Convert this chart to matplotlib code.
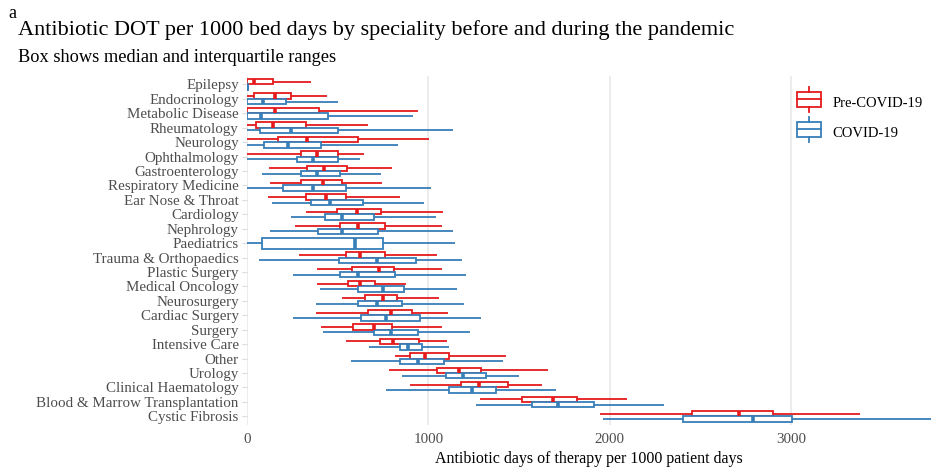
import numpy as np
import matplotlib
matplotlib.use("Agg")
import matplotlib.pyplot as plt
from matplotlib.legend_handler import HandlerBase
from matplotlib.patches import Rectangle
from matplotlib.lines import Line2D

plt.rcParams['font.family'] = ['Liberation Serif', 'DejaVu Serif']

categories = ["Epilepsy", "Endocrinology", "Metabolic Disease", "Rheumatology", "Neurology",
              "Ophthalmology", "Gastroenterology", "Respiratory Medicine", "Ear Nose & Throat",
              "Cardiology", "Nephrology", "Paediatrics", "Trauma & Orthopaedics", "Plastic Surgery",
              "Medical Oncology", "Neurosurgery", "Cardiac Surgery", "Surgery", "Intensive Care",
              "Other", "Urology", "Clinical Haematology", "Blood & Marrow Transplantation",
              "Cystic Fibrosis"]

nan = np.nan
pre_min = [0, 0, 0, 0, 0, 0, 121, 129, 116, 324, 263, nan, 287, 386, 386, 526, 379, 407, 544, 816, 780, 897, 1284, 1946]
pre_q1 = [0, 37, 0, 52, 171, 296, 331, 295, 324, 496, 515, nan, 544, 579, 554, 649, 667, 585, 732, 897, 1045, 1177, 1514, 2455]
pre_med = [37, 157, 153, 143, 333, 386, 423, 419, 438, 607, 612, nan, 625, 728, 625, 750, 791, 699, 802, 980, 1168, 1280, 1688, 2714]
pre_q3 = [143, 245, 397, 324, 612, 502, 552, 521, 544, 736, 758, nan, 760, 811, 704, 827, 910, 800, 947, 1114, 1291, 1436, 1817, 2898]
pre_max = [350, 441, 943, 667, 1002, 644, 800, 743, 846, 1078, 1074, nan, 1045, 1076, 879, 1059, 1107, 1076, 1100, 1425, 1657, 1624, 2096, 3380]

cov_min = [0, 0, 0, 0, 0, 0, 85, 0, 138, 241, 129, 0, 66, 254, 405, 379, 254, 419, 673, 572, 855, 765, 1262, 1964]
cov_q1 = [0, 0, 0, 70, 94, 278, 295, 199, 350, 429, 392, 85, 507, 511, 612, 612, 627, 699, 842, 846, 1096, 1114, 1569, 2405]
cov_med = [0, 88, 79, 245, 226, 364, 386, 364, 456, 526, 526, 596, 717, 612, 747, 714, 765, 793, 885, 940, 1188, 1241, 1712, 2788]
cov_q3 = [5, 213, 447, 502, 410, 502, 511, 544, 637, 699, 723, 750, 929, 816, 864, 852, 956, 943, 965, 1085, 1315, 1370, 1914, 3003]
cov_max = [10, 502, 916, 1133, 833, 622, 736, 1012, 975, 1039, 1133, 1146, 1183, 1205, 1158, 1197, 1291, 1228, 1114, 1409, 1499, 1703, 2300, 3800]

xticks = [0, 1000, 2000, 3000]
series_names = ["Pre-COVID-19", "COVID-19"]
RED = "#E41A1C"
BLUE = "#377EB8"

W, H = 931, 473
fig = plt.figure(figsize=(W / 100, H / 100), dpi=100)
ax = fig.add_axes([247 / W, 1 - 425 / H, (931 - 247) / W, (425 - 75.8) / H])

def stats_for(mins, q1s, meds, q3s, maxs):
    out, idx = [], []
    for i in range(len(categories)):
        if np.isnan(meds[i]):
            continue
        out.append(dict(whislo=mins[i], q1=q1s[i], med=meds[i], q3=q3s[i], whishi=maxs[i], fliers=[]))
        idx.append(i)
    return out, idx

lw = 1.3
for (mins, q1s, meds, q3s, maxs, col, off) in [
        (pre_min, pre_q1, pre_med, pre_q3, pre_max, RED, -0.1875),
        (cov_min, cov_q1, cov_med, cov_q3, cov_max, BLUE, 0.1875)]:
    st, idx = stats_for(mins, q1s, meds, q3s, maxs)
    other = pre_med if col == BLUE else cov_med
    pos, wid = [], []
    for i in idx:
        if np.isnan(other[i]):
            pos.append(i); wid.append(0.75)
        else:
            pos.append(i + off); wid.append(0.375)
    kw = dict(positions=pos, widths=wid, patch_artist=True, showcaps=False, showfliers=False,
              boxprops=dict(facecolor='white', edgecolor=col, linewidth=lw),
              whiskerprops=dict(color=col, linewidth=lw, solid_capstyle='butt'),
              medianprops=dict(color=col, linewidth=2.6, solid_capstyle='butt'),
              manage_ticks=False)
    try:
        ax.bxp(st, orientation='horizontal', **kw)
    except TypeError:
        ax.bxp(st, vert=False, **kw)

ax.set_xlim(0, 3770)
ax.set_ylim(len(categories) - 1 + 0.6, -0.6)
ax.set_yticks(range(len(categories)))
ax.set_yticklabels(categories)
ax.set_xticks(xticks)
ax.set_xticklabels([str(v) for v in xticks])
for s in ax.spines.values():
    s.set_visible(False)
ax.grid(axis='x', color='#EBEBEB', linewidth=1.3, zorder=0)
ax.set_axisbelow(True)
ax.tick_params(axis='y', length=3.5, width=0.8, color='#DDDDDD', labelsize=10.8,
               labelcolor='#4D4D4D', pad=2.5)
ax.tick_params(axis='x', length=0, labelsize=10.8, labelcolor='#4D4D4D', pad=6)
ax.set_xlabel("Antibiotic days of therapy per 1000 patient days", fontsize=11.5, labelpad=3)


class HandlerBox(HandlerBase):
    def create_artists(self, legend, orig_handle, xdescent, ydescent, width, height, fontsize, trans):
        col = orig_handle.get_color()
        x0, y0 = -xdescent, -ydescent
        total = height + ydescent
        bh = total * 0.62
        by = y0 + (total - bh) / 2
        rect = Rectangle((x0, by), width, bh, facecolor='white', edgecolor=col, linewidth=lw, transform=trans)
        cx = x0 + width / 2
        w1 = Line2D([cx, cx], [y0, by], color=col, linewidth=lw, transform=trans)
        w2 = Line2D([cx, cx], [by + bh, y0 + total], color=col, linewidth=lw, transform=trans)
        med = Line2D([x0, x0 + width], [y0 + total / 2] * 2, color=col, linewidth=lw, transform=trans)
        return [rect, w1, w2, med]

handles = [Line2D([], [], color=RED), Line2D([], [], color=BLUE)]
fig.legend(handles, series_names, handler_map={Line2D: HandlerBox()},
           loc='upper left', bbox_to_anchor=(797 / W, 1 - 92 / H), bbox_transform=fig.transFigure,
           frameon=False, fontsize=10.5, borderpad=0, borderaxespad=0,
           handlelength=1.65, handleheight=1.7, handletextpad=0.8, labelspacing=0.72)

fig.text(8 / W, 1 - 13 / H, "a", fontsize=13, va='center', ha='left')
fig.text(18 / W, 1 - 30 / H, "Antibiotic DOT per 1000 bed days by speciality before and during the pandemic",
         fontsize=16.0, va='center', ha='left')
fig.text(18 / W, 1 - 57 / H, "Box shows median and interquartile ranges", fontsize=13.2, va='center', ha='left')

fig.savefig("out.png", dpi=100)
